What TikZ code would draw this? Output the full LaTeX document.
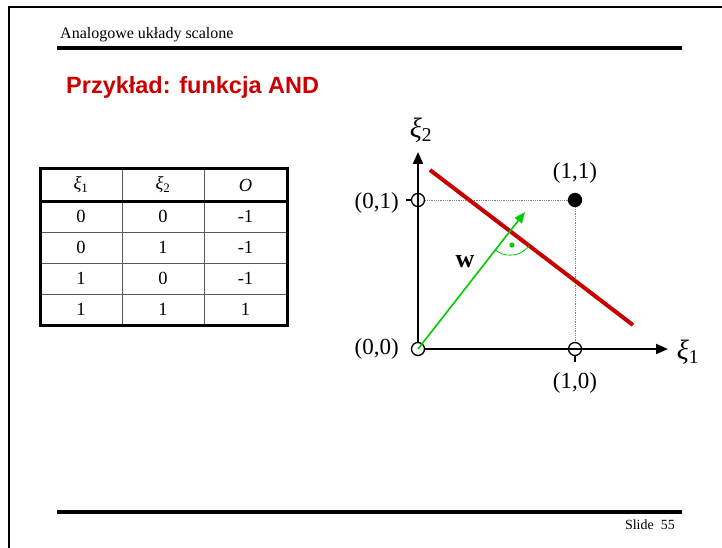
\documentclass[tikz,border=0pt]{standalone}
\usepackage{fontspec}
\setmainfont{Liberation Serif}
\newfontfamily\arialfont{Liberation Sans}
\usetikzlibrary{arrows.meta}
\definecolor{titlered}{RGB}{204,0,0}
\definecolor{boundred}{RGB}{200,0,0}
\definecolor{wgreen}{RGB}{0,204,0}
\newcommand{\xisub}[1]{\textit{ξ}\textsubscript{#1}}
\tikzset{
  pt/.style={circle,draw,line width=1.3pt,minimum size=13pt,inner sep=0pt,fill=white},
  cell/.style={font=\fontsize{18.5}{22}\selectfont},
  lbl/.style={font=\fontsize{23}{27}\selectfont},
  axisarrow/.style={line width=2pt,-{Triangle[length=12pt,width=10pt]}},
}
\begin{document}
\begin{tikzpicture}[x=1pt,y=-1pt,every node/.style={font=\fontsize{16}{19}\selectfont}]
\useasboundingbox (0,0) rectangle (722,548);
% slide frame and header
\draw[line width=2pt] (722,7) -- (9,7) -- (9,548);
\node[anchor=base west,inner sep=0pt] (header) at (60,39) {Analogowe układy scalone};
\draw[line width=4pt] (57,48) -- (682,48);
\node[anchor=base west,inner sep=0pt,text=titlered,font=\arialfont\bfseries\fontsize{23.5}{28}\selectfont] (title) at (66,94) {Przykład: funkcja AND};
% footer
\draw[line width=4pt] (57,512) -- (682,512);
\node[anchor=base east,inner sep=0pt,font=\fontsize{14}{17}\selectfont] (slide) at (675,529) {Slide~~55};
% truth table
\draw[gray!70!black,line width=0.8pt] (122,169) -- (122,325) (204,169) -- (204,325);
\draw[gray!70!black,line width=0.8pt] (40,232) -- (287,232) (40,263) -- (287,263) (40,294) -- (287,294);
\draw[line width=3pt] (40,201) -- (287,201);
\draw[line width=3pt] (40,169) rectangle (287,325);
\node[cell] (h1) at (81,185) {\xisub{1}};
\node[cell] (h2) at (163,185) {\xisub{2}};
\node[cell] (h3) at (245.5,185) {\textit{O}};
\foreach \a/\b/\o [count=\r] in {0/0/-1,0/1/-1,1/0/-1,1/1/1}{
  \node[cell] (a\r) at (81,185+31*\r) {\a};
  \node[cell] (b\r) at (163,185+31*\r) {\b};
  \node[cell] (o\r) at (245.5,185+31*\r) {\o};
}
% input space
\coordinate (xend) at (668,349);
\coordinate (yend) at (418,152);
\coordinate (tick01) at (406,200);
\coordinate (tick10) at (575,362);
\coordinate (r1) at (430,170);
\coordinate (r2) at (633,325);
\coordinate (wtip) at (525,212);
\node[pt] (p00) at (418,349) {};
\node[pt] (p10) at (575,349) {};
\node[pt] (p01) at (418,200) {};
\node[pt,fill=black] (p11) at (575,200) {};
\draw[axisarrow] (p00) -- (xend);
\draw[axisarrow] (p00) -- (yend);
\draw[line width=1.5pt] (tick01) -- (p01);
\draw[line width=1.5pt] (p10) -- (tick10);
\draw[gray,line width=0.8pt,densely dotted] (p01) -- (p11) -- (p10);
\draw[boundred,line width=4pt] (r1) -- (r2);
\draw[wgreen,line width=1.6pt,-{Triangle[length=11pt,width=9pt]}] (p00.center) -- (wtip);
\coordinate (cross) at (intersection of p00--wtip and r1--r2);
\draw[wgreen,line width=0.8pt] ([shift={(232:24pt)}]cross) arc[start angle=232,end angle=323,radius=24pt];
\fill[wgreen] ([shift={(277.5:14pt)}]cross) circle (2.6pt);
\node[lbl,anchor=east,inner sep=0pt] (l01) at (399,203) {(0,1)};
\node[lbl,anchor=east,inner sep=0pt] (l00) at (399,349) {(0,0)};
\node[lbl] (l11) at (575,173) {(1,1)};
\node[lbl] (l10) at (575,383) {(1,0)};
\node[font=\fontsize{28}{31}\selectfont] (xi2) at (421,130) {\xisub{2}};
\node[font=\fontsize{28}{31}\selectfont] (xi1) at (688,352) {\xisub{1}};
\node[font=\bfseries\fontsize{26}{30}\selectfont] (wlbl) at (465,262) {w};
\end{tikzpicture}
\end{document}
